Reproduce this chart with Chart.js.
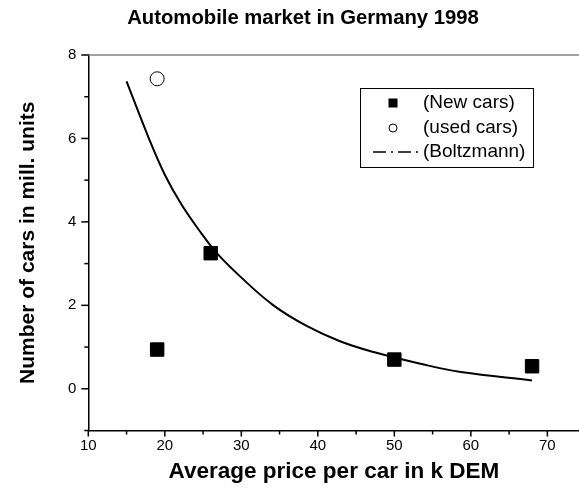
<!DOCTYPE html>
<html>
<head>
<meta charset="utf-8">
<script src="https://cdn.jsdelivr.net/npm/chart.js@4.4.0/dist/chart.umd.min.js"></script>
<style>
  html, body { margin: 0; padding: 0; background: #fff; overflow: hidden; }
  /* a little wider than the window: the plot frame runs off the right edge as in the original */
  #wrap { position: relative; width: 590px; height: 497px; }
</style>
</head>
<body>
<div id="wrap"><canvas id="chart"></canvas></div>
<script>
// values
const newCarPrice = [19, 26, 50, 68];
const newCarCount = [0.94, 3.25, 0.70, 0.54];
const usedCarPrice = [19];
const usedCarCount = [7.43];
const fitPrice = [15, 17.9, 20, 22.2, 24.8, 26.8, 29.8, 34.2, 38.6, 42.9, 47.3, 53.4, 58.7, 68];
const fitCount = [7.37, 6.01, 5.13, 4.41, 3.72, 3.25, 2.70, 2.00, 1.50, 1.14, 0.88, 0.60, 0.40, 0.20];
const xTicks = [10, 15, 20, 25, 30, 35, 40, 45, 50, 55, 60, 65, 70];
const yTicks = [-1, 0, 1, 2, 3, 4, 5, 6, 7, 8];
const titleText = 'Automobile market in Germany 1998';
const xTitle = 'Average price per car in k DEM';
const yTitle = 'Number of cars in mill. units';
const legendLabels = ['(New cars)', '(used cars)', '(Boltzmann)'];

const FONT = '"Liberation Sans", Arial, Helvetica, sans-serif';

const toPoints = (xs, ys) => xs.map((v, i) => ({ x: v, y: ys[i] }));

// ticks, top frame line, title and the boxed legend
const decorations = {
  id: 'decorations',
  afterDraw(chart) {
    const { ctx, chartArea: a, scales: { x, y } } = chart;
    ctx.save();

    ctx.strokeStyle = '#808080';
    ctx.lineWidth = 1.5;
    ctx.beginPath();
    ctx.moveTo(a.left, a.top);
    ctx.lineTo(a.right, a.top);
    ctx.stroke();

    ctx.strokeStyle = '#000';
    ctx.lineWidth = 1.5;
    x.ticks.forEach(t => {
      const px = x.getPixelForValue(t.value);
      const len = t.value % 10 === 0 ? 6 : 4;
      ctx.beginPath();
      ctx.moveTo(px, a.bottom);
      ctx.lineTo(px, a.bottom + len);
      ctx.stroke();
    });
    y.ticks.forEach(t => {
      const py = y.getPixelForValue(t.value);
      const len = t.value % 2 === 0 ? 7 : 4;
      ctx.beginPath();
      ctx.moveTo(a.left, py);
      ctx.lineTo(a.left - len, py);
      ctx.stroke();
    });

    ctx.fillStyle = '#000';
    ctx.font = 'bold 20.3px ' + FONT;
    ctx.textAlign = 'center';
    ctx.textBaseline = 'middle';
    ctx.fillText(titleText, 303, 18);

    // legend box
    const bx = 360, by = 88, bw = 173, bh = 79;
    ctx.lineWidth = 1;
    ctx.strokeRect(bx + 0.5, by + 0.5, bw, bh);
    const rows = [103, 128, 152];
    const sx = 393;
    const sets = chart.data.datasets;

    ctx.fillStyle = sets[0].backgroundColor;
    ctx.fillRect(sx - 4.5, rows[0] - 4.5, 9, 9);

    ctx.beginPath();
    ctx.arc(sx, rows[1], 4, 0, Math.PI * 2);
    ctx.fillStyle = '#fff';
    ctx.fill();
    ctx.strokeStyle = sets[1].borderColor;
    ctx.lineWidth = 1;
    ctx.stroke();

    ctx.strokeStyle = sets[2].borderColor;
    ctx.lineWidth = 1.5;
    ctx.setLineDash([13, 5, 2, 5]);
    ctx.beginPath();
    ctx.moveTo(373, rows[2]);
    ctx.lineTo(418, rows[2]);
    ctx.stroke();
    ctx.setLineDash([]);

    ctx.fillStyle = '#000';
    ctx.font = '19px ' + FONT;
    ctx.textAlign = 'left';
    legendLabels.forEach((txt, i) => ctx.fillText(txt, 423, rows[i]));

    ctx.restore();
  }
};

new Chart(document.getElementById('chart'), {
  type: 'scatter',
  data: {
    datasets: [
      {
        label: legendLabels[0],
        data: toPoints(newCarPrice, newCarCount),
        pointStyle: 'rect',
        pointRadius: 9.5,
        backgroundColor: '#000',
        borderColor: '#000',
        borderWidth: 1
      },
      {
        label: legendLabels[1],
        data: toPoints(usedCarPrice, usedCarCount),
        pointStyle: 'circle',
        pointRadius: 7,
        backgroundColor: '#fff',
        borderColor: '#000',
        borderWidth: 1
      },
      {
        label: legendLabels[2],
        data: toPoints(fitPrice, fitCount),
        showLine: true,
        pointRadius: 0,
        borderColor: '#000',
        borderWidth: 2,
        tension: 0.4,
        fill: false
      }
    ]
  },
  options: {
    responsive: true,
    maintainAspectRatio: false,
    animation: false,
    layout: { padding: { top: 55, left: 0, right: 0, bottom: 0 } },
    plugins: {
      legend: { display: false },
      tooltip: { enabled: false },
      title: { display: false }
    },
    scales: {
      x: {
        type: 'linear',
        min: 10,
        max: 74.2,
        afterBuildTicks: s => { s.ticks = xTicks.map(v => ({ value: v })); },
        afterFit: s => { s.height = 66.5; },
        grid: { display: true, drawOnChartArea: false, drawTicks: false },
        border: { display: true, color: '#000', width: 1.5 },
        ticks: {
          padding: 6,
          color: '#000',
          font: { family: FONT, size: 15 },
          maxRotation: 0,
          autoSkip: false,
          callback: v => (v % 10 === 0 ? v : '')
        },
        title: {
          display: true,
          text: xTitle,
          color: '#000',
          font: { family: FONT, size: 22.5, weight: 'bold' },
          padding: { top: 0, bottom: 12 }
        }
      },
      y: {
        type: 'linear',
        min: -1,
        max: 8,
        afterBuildTicks: s => { s.ticks = yTicks.map(v => ({ value: v })); },
        afterFit: s => { s.width = 88.3; },
        grid: { display: true, drawOnChartArea: false, drawTicks: false },
        border: { display: true, color: '#000', width: 1.5 },
        ticks: {
          padding: 12,
          color: '#000',
          font: { family: FONT, size: 15 },
          autoSkip: false,
          callback: v => (v % 2 === 0 ? v : '')
        },
        title: {
          display: true,
          text: yTitle,
          color: '#000',
          font: { family: FONT, size: 21, weight: 'bold' },
          padding: { top: 16, bottom: 0 }
        }
      }
    }
  },
  plugins: [decorations]
});
</script>
</body>
</html>
